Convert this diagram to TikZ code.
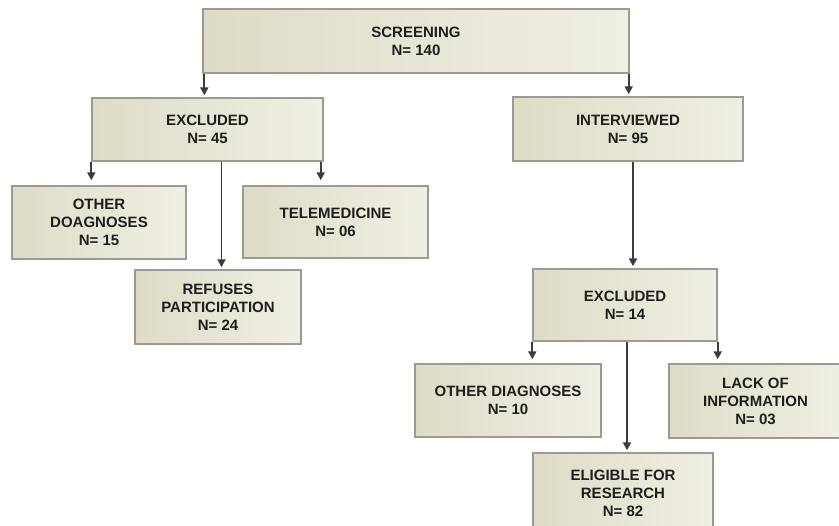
\documentclass[tikz,border=0pt]{standalone}
\usepackage{fontspec}
\setmainfont{Liberation Sans}
\usetikzlibrary{arrows.meta}
\definecolor{boxL}{RGB}{222,220,198}
\definecolor{boxR}{RGB}{240,239,228}
\definecolor{boxD}{RGB}{155,155,145}
\definecolor{txt}{RGB}{30,30,30}
\definecolor{arrc}{RGB}{60,60,60}
\tikzset{
  flowbox/.style={draw=boxD, line width=1.4pt, left color=boxL, right color=boxR,
    inner sep=0pt, align=center, font=\fontsize{15}{18}\selectfont\bfseries, text=txt},
  arr/.style={draw=arrc, line width=1.9pt, shorten >=2pt, -{Triangle[length=8pt,width=8pt]}},
}
\begin{document}
\begin{tikzpicture}[x=1pt,y=-1pt]
\useasboundingbox (0,0) rectangle (839,526);
\node[flowbox, minimum width=426, minimum height=64] (scr) at (416,41) {SCREENING\\N= 140};
\node[flowbox, minimum width=231, minimum height=63] (exA) at (207.5,129.5) {EXCLUDED\\N= 45};
\node[flowbox, minimum width=174, minimum height=73] (othA) at (99,222.5) {OTHER\\DOAGNOSES\\N= 15};
\node[flowbox, minimum width=185, minimum height=72] (tele) at (335.5,222) {TELEMEDICINE\\N= 06};
\node[flowbox, minimum width=166, minimum height=74] (ref) at (218,307) {REFUSES\\PARTICIPATION\\N= 24};
\node[flowbox, minimum width=230, minimum height=64] (intv) at (628,129) {INTERVIEWED\\N= 95};
\node[flowbox, minimum width=184, minimum height=72] (exB) at (625,305) {EXCLUDED\\N= 14};
\node[flowbox, minimum width=186, minimum height=73] (othB) at (508,400.5) {OTHER DIAGNOSES\\N= 10};
\node[flowbox, minimum width=173, minimum height=74] (lack) at (755.5,401) {LACK OF\\INFORMATION\\N= 03};
\node[flowbox, minimum width=180, minimum height=80] (elig) at (623,493) {ELIGIBLE FOR\\RESEARCH\\N= 82};

\coordinate (s1) at ([xshift=2]scr.south west);
\coordinate (s2) at ([xshift=-1]scr.south east);
\coordinate (a1) at (exA.south west);
\coordinate (a2) at ([xshift=-3]exA.south east);
\coordinate (a3) at ([xshift=14]exA.south);
\coordinate (i1) at ([xshift=5]intv.south);
\coordinate (b1) at (exB.south west);
\coordinate (b2) at (exB.south east);
\coordinate (b3) at ([xshift=2]exB.south);

\draw[arr] (s1) -- (s1 |- exA.north);
\draw[arr] (s2) -- (s2 |- intv.north);
\draw[arr] (a1) -- ([yshift=3]a1 |- othA.north);
\draw[arr] (a2) -- ([yshift=3]a2 |- tele.north);
\draw[arr] (a3) -- (a3 |- ref.north);
\draw[arr] (i1) -- (i1 |- exB.north);
\draw[arr] (b1) -- ([yshift=2]b1 |- othB.north);
\draw[arr] (b2) -- ([yshift=2]b2 |- lack.north);
\draw[arr] (b3) -- (b3 |- elig.north);
\end{tikzpicture}
\end{document}
